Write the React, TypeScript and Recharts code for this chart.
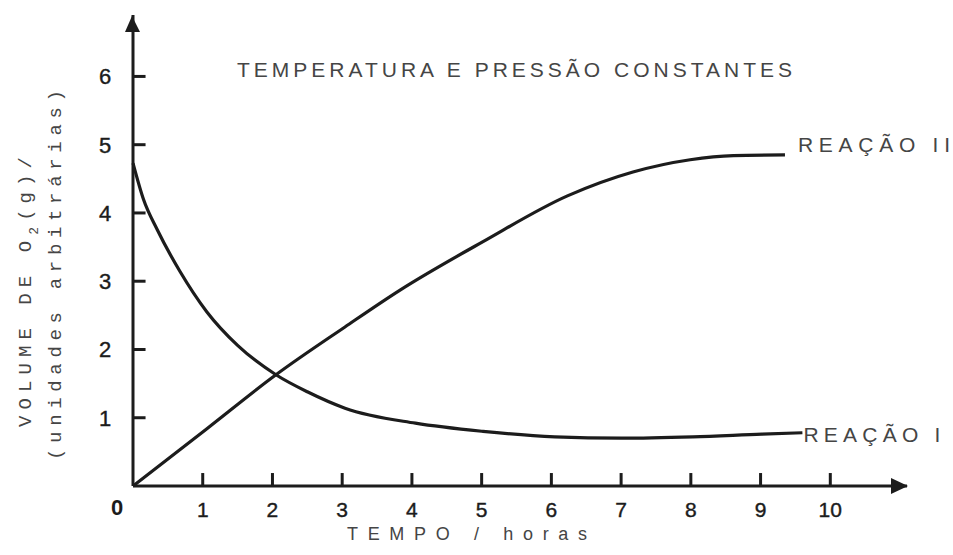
import React from 'react';
import { LineChart, Line, XAxis, YAxis, ReferenceDot, ReferenceLine, Customized } from 'recharts';

// Reação I – tempo (h) e volume de O2 (u.a.)
const tempoReacaoI = [0, 0.15, 0.35, 0.67, 1.06, 1.5, 2.05, 2.5, 3.04, 4.05, 5.02, 6.05, 7.0, 8.03, 9.02, 9.6];
const volumeReacaoI = [4.73, 4.2, 3.75, 3.15, 2.55, 2.06, 1.63, 1.38, 1.14, 0.92, 0.8, 0.72, 0.7, 0.72, 0.76, 0.78];

// Reação II
const tempoReacaoII = [0, 1.06, 2.05, 3.04, 3.83, 5.02, 6.23, 7.17, 7.99, 8.61, 9.35];
const volumeReacaoII = [0, 0.84, 1.63, 2.33, 2.87, 3.58, 4.25, 4.6, 4.78, 4.84, 4.85];

const xTicks = [0, 1, 2, 3, 4, 5, 6, 7, 8, 9, 10];
const yTicks = [1, 2, 3, 4, 5, 6];
const xMax = 11.1;
const yMax = 6.9;
const tickLenX = 0.19; // traço vertical dos ticks (unidades de volume)
const tickLenY = 0.18; // traço horizontal dos ticks (horas)

const titulo = 'TEMPERATURA E PRESSÃO CONSTANTES';
const rotuloX = 'TEMPO / horas';
const rotuloY1a = 'VOLUME DE O';
const rotuloY1sub = '2';
const rotuloY1b = '(g)/';
const rotuloY2 = '(unidades arbitrárias)';
const nomeI = 'REAÇÃO I';
const nomeII = 'REAÇÃO II';

const dadosI = tempoReacaoI.map((t, i) => ({ t, v: volumeReacaoI[i] }));
const dadosII = tempoReacaoII.map((t, i) => ({ t, v: volumeReacaoII[i] }));

const INK = '#1c1c1c';
const TXT = '#454545';
const FONT = '"Liberation Sans", Arial, sans-serif';
const MONO = '"Liberation Mono", "DejaVu Sans Mono", monospace';

const XTick = (props: any) => {
  const x = Number(props.x);
  const y = Number(props.y);
  const v = props.payload.value;
  if (v === 0) {
    return (
      <text x={x - 16} y={y + 29} textAnchor="middle" fontSize={22} fontWeight="bold" fill={INK} fontFamily={FONT}>
        0
      </text>
    );
  }
  return (
    <text x={x} y={y + 31} textAnchor="middle" fontSize={21} fill={INK} stroke={INK} strokeWidth={0.4} fontFamily={FONT}>
      {v}
    </text>
  );
};

const YTick = (props: any) => {
  const x = Number(props.x);
  const y = Number(props.y);
  const v = props.payload.value;
  return (
    <text x={x - 28} y={y + 8} textAnchor="middle" fontSize={22} fill={INK} stroke={INK} strokeWidth={0.4} fontFamily={FONT}>
      {v}
    </text>
  );
};

const ArrowUp = (p: any) => (
  <polygon points={`${p.cx - 1},${p.cy + 1} ${p.cx - 8},${p.cy + 17} ${p.cx + 7},${p.cy + 17}`} fill={INK} />
);
const ArrowRight = (p: any) => (
  <polygon points={`${p.cx + 1},${p.cy} ${p.cx - 16},${p.cy - 8} ${p.cx - 16},${p.cy + 8}`} fill={INK} />
);

const LabelII = (p: any) => (
  <text x={p.cx + 13} y={p.cy - 3} fontSize={21} fill={TXT} fontFamily={FONT} textLength={152} lengthAdjust="spacing">
    {nomeII}
  </text>
);
const LabelI = (p: any) => (
  <text x={p.cx + 1} y={p.cy + 9} fontSize={21} fill={TXT} fontFamily={FONT} textLength={137} lengthAdjust="spacing">
    {nomeI}
  </text>
);

const Annotations = () => (
  <g>
    <text x={237} y={77} fontSize={21} fill={TXT} fontFamily={FONT} textLength={555} lengthAdjust="spacing">
      {titulo}
    </text>
    <text x={347} y={540} fontSize={18} fill={TXT} fontFamily={FONT} textLength={240} lengthAdjust="spacing">
      {rotuloX}
    </text>
    <text
      x={31}
      y={427}
      transform="rotate(-90 31 427)"
      fontSize={19}
      fill={TXT}
      fontFamily={MONO}
      textLength={270}
      lengthAdjust="spacing"
    >
      {rotuloY1a}
      <tspan fontSize={13} dy={7}>{rotuloY1sub}</tspan>
      <tspan dy={-7}>{rotuloY1b}</tspan>
    </text>
    <text
      x={61}
      y={460}
      transform="rotate(-90 61 460)"
      fontSize={19}
      fill={TXT}
      fontFamily={MONO}
      textLength={370}
      lengthAdjust="spacing"
    >
      {rotuloY2}
    </text>
  </g>
);

export default function App() {
  return (
    <div style={{ position: 'absolute', left: 0, top: 0, background: '#fff' }}>
      <LineChart width={953} height={555} margin={{ top: 15, right: 46, bottom: 39, left: 73 }}>
        <XAxis
          dataKey="t"
          type="number"
          domain={[0, xMax]}
          ticks={xTicks}
          interval={0}
          tickSize={0}
          tickMargin={0}
          tickLine={false}
          axisLine={{ stroke: INK, strokeWidth: 3 }}
          tick={<XTick />}
          height={30}
        />
        <YAxis
          dataKey="v"
          type="number"
          domain={[0, yMax]}
          ticks={yTicks}
          interval={0}
          tickSize={0}
          tickMargin={0}
          tickLine={false}
          axisLine={{ stroke: INK, strokeWidth: 3 }}
          tick={<YTick />}
          width={60}
        />
        {xTicks
          .filter((t) => t > 0)
          .map((t) => (
            <ReferenceLine
              key={`xt${t}`}
              segment={[
                { x: t, y: 0 },
                { x: t, y: tickLenX },
              ]}
              stroke={INK}
              strokeWidth={3}
              ifOverflow="visible"
            />
          ))}
        {yTicks.map((v) => (
          <ReferenceLine
            key={`yt${v}`}
            segment={[
              { x: 0, y: v },
              { x: tickLenY, y: v },
            ]}
            stroke={INK}
            strokeWidth={3}
            ifOverflow="visible"
          />
        ))}
        <Line
          data={dadosI}
          dataKey="v"
          type="monotone"
          stroke={INK}
          strokeWidth={3.2}
          dot={false}
          isAnimationActive={false}
        />
        <Line
          data={dadosII}
          dataKey="v"
          type="monotone"
          stroke={INK}
          strokeWidth={3.2}
          dot={false}
          isAnimationActive={false}
        />
        <ReferenceDot x={0} y={yMax} ifOverflow="visible" shape={ArrowUp} />
        <ReferenceDot x={xMax} y={0} ifOverflow="visible" shape={ArrowRight} />
        <ReferenceDot
          x={tempoReacaoII[tempoReacaoII.length - 1]}
          y={volumeReacaoII[volumeReacaoII.length - 1]}
          ifOverflow="visible"
          shape={LabelII}
        />
        <ReferenceDot
          x={tempoReacaoI[tempoReacaoI.length - 1]}
          y={volumeReacaoI[volumeReacaoI.length - 1]}
          ifOverflow="visible"
          shape={LabelI}
        />
        <Customized component={<Annotations />} />
      </LineChart>
    </div>
  );
}
